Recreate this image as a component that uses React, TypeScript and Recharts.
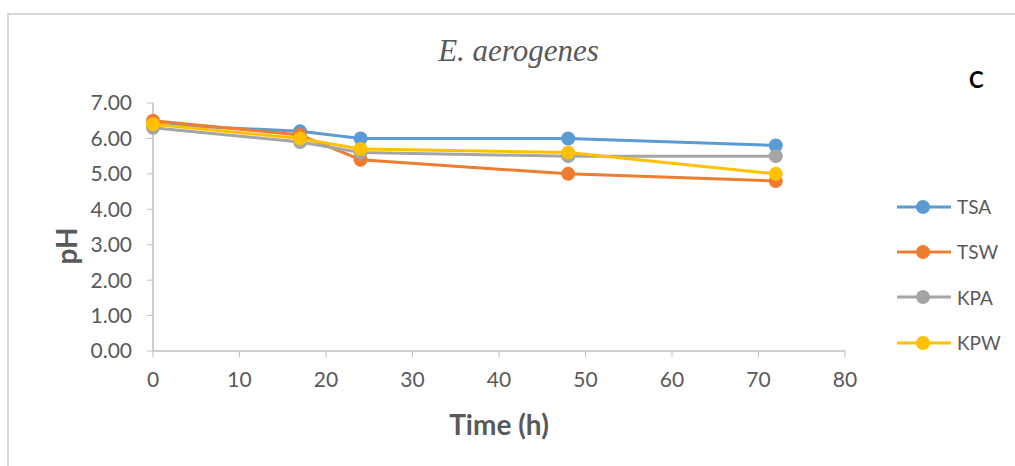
import { LineChart, Line, XAxis, YAxis } from 'recharts';

const hours = [0, 17, 24, 48, 72];
const tsa = [6.4, 6.2, 6.0, 6.0, 5.8];
const tsw = [6.5, 6.1, 5.4, 5.0, 4.8];
const kpa = [6.3, 5.9, 5.6, 5.5, 5.5];
const kpw = [6.4, 6.0, 5.7, 5.6, 5.0];

const xTicks = [0, 10, 20, 30, 40, 50, 60, 70, 80];
const yTicks = [0, 1, 2, 3, 4, 5, 6, 7];

const series = [
  { key: 'TSA', values: tsa, color: '#5B9BD5' },
  { key: 'TSW', values: tsw, color: '#ED7D31' },
  { key: 'KPA', values: kpa, color: '#A5A5A5' },
  { key: 'KPW', values: kpw, color: '#FFC000' },
];

const data = hours.map((h, i) => {
  const row: Record<string, number> = { hour: h };
  series.forEach((s) => (row[s.key] = s.values[i]));
  return row;
});

const font = 'Lato, "Open Sans", sans-serif';
const gray = '#595959';
const axisColor = '#BFBFBF';

function LegendBox() {
  return (
    <div style={{ position: 'absolute', left: 897, top: 184 }}>
      {series.map((s) => (
        <div key={s.key} style={{ display: 'flex', alignItems: 'center', height: 45.3 }}>
          <svg width={56} height={16}>
            <line x1={0} y1={8} x2={54} y2={8} stroke={s.color} strokeWidth={3} />
            <circle cx={26} cy={8} r={7} fill={s.color} />
          </svg>
          <span style={{ fontFamily: font, fontSize: 19, color: gray, marginLeft: 4 }}>{s.key}</span>
        </div>
      ))}
    </div>
  );
}

export default function App() {
  return (
    <div style={{ position: 'absolute', left: 0, top: 0, width: 1015, height: 466, background: '#fff', overflow: 'hidden' }}>
      <div
        style={{
          position: 'absolute',
          left: 7,
          top: 13,
          width: 1020,
          height: 470,
          borderLeft: '2px solid #D9D9D9',
          borderTop: '2px solid #D9D9D9',
        }}
      />
      <LineChart
        width={1015}
        height={466}
        data={data}
        margin={{ top: 103, right: 170, bottom: 65, left: 73 }}
        style={{ position: 'absolute', left: 0, top: 0 }}
      >
        <XAxis
          dataKey="hour"
          type="number"
          domain={[0, 80]}
          ticks={xTicks}
          height={50}
          stroke={axisColor}
          tickSize={6}
          tickMargin={15}
          tick={{ fill: gray, fontSize: 21, fontFamily: font }}
          tickLine={{ stroke: axisColor }}
          axisLine={{ stroke: axisColor, strokeWidth: 1.5 }}
        />
        <YAxis
          type="number"
          domain={[0, 7]}
          ticks={yTicks}
          width={80}
          tickSize={6}
          tickMargin={15}
          tickFormatter={(v: number) => v.toFixed(2)}
          tick={{ fill: gray, fontSize: 21, fontFamily: font }}
          tickLine={{ stroke: axisColor }}
          axisLine={{ stroke: axisColor, strokeWidth: 1.5 }}
        />
        {series.map((s) => (
          <Line
            key={s.key}
            dataKey={s.key}
            stroke={s.color}
            strokeWidth={3}
            dot={{ r: 7, fill: s.color, stroke: s.color, strokeWidth: 0 }}
            isAnimationActive={false}
          />
        ))}
      </LineChart>
      <div
        style={{
          position: 'absolute',
          left: 0,
          width: 1037,
          top: 33,
          textAlign: 'center',
          fontFamily: '"Liberation Serif", serif',
          fontStyle: 'italic',
          fontSize: 31,
          color: gray,
        }}
      >
        E. aerogenes
      </div>
      <div style={{ position: 'absolute', left: 969, top: 66, fontFamily: font, fontWeight: 'bold', fontSize: 22, color: '#000' }}>
        C
      </div>
      <div
        style={{
          position: 'absolute',
          left: 66,
          top: 246,
          transform: 'translate(-50%, -50%) rotate(-90deg)',
          fontFamily: font,
          fontWeight: 'bold',
          fontSize: 28,
          color: gray,
        }}
      >
        pH
      </div>
      <div
        style={{
          position: 'absolute',
          left: 499,
          top: 424,
          transform: 'translate(-50%, -50%)',
          fontFamily: font,
          fontWeight: 'bold',
          fontSize: 28,
          color: gray,
          whiteSpace: 'nowrap',
        }}
      >
        Time (h)
      </div>
      <LegendBox />
    </div>
  );
}
